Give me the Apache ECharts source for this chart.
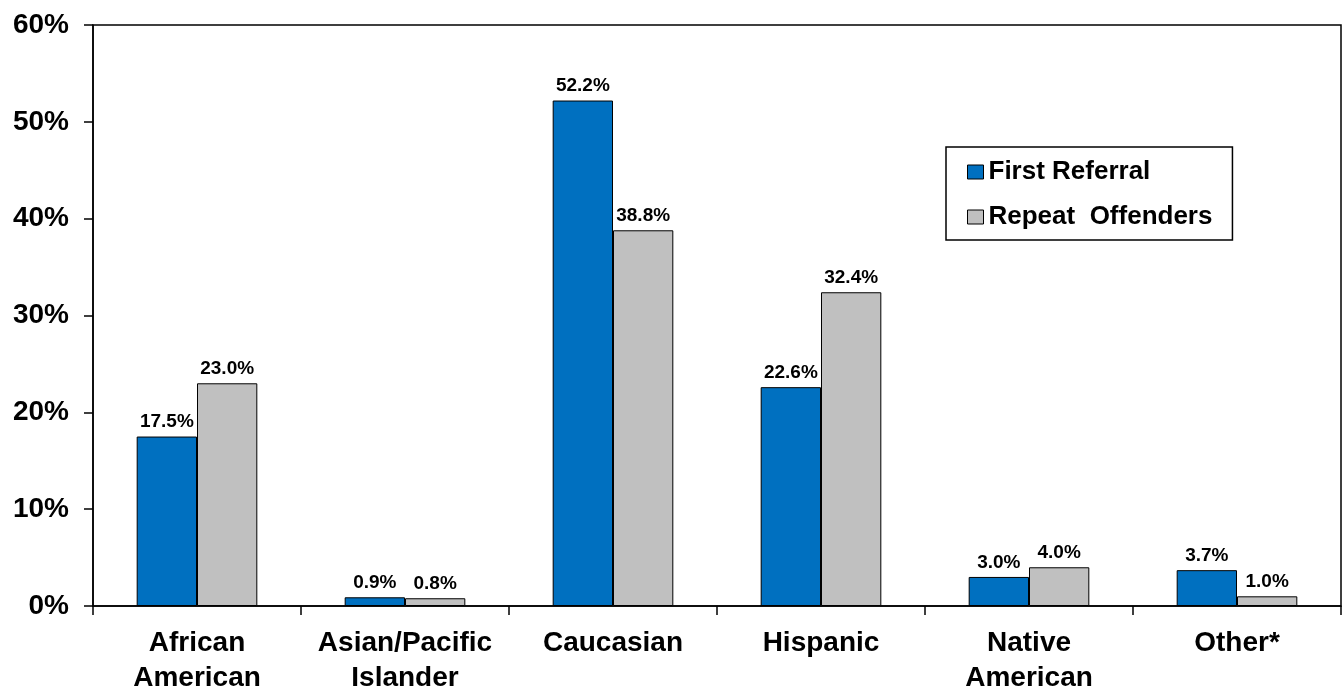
<!DOCTYPE html>
<html>
<head>
<meta charset="utf-8">
<script src="https://cdn.jsdelivr.net/npm/echarts@6/dist/echarts.min.js"></script>
<style>
  html, body { margin: 0; padding: 0; background: #ffffff; }
  #chart { width: 1343px; height: 692px; }
</style>
</head>
<body>
<div id="chart"></div>
<script>
// Categories and percentages per group
const categories = ['African\nAmerican', 'Asian/Pacific\nIslander', 'Caucasian', 'Hispanic', 'Native\nAmerican', 'Other*'];
const firstReferral = [17.5, 0.9, 52.2, 22.6, 3.0, 3.7];
const repeatOffenders = [23.0, 0.8, 38.8, 32.4, 4.0, 1.0];
const seriesNames = ['First Referral', 'Repeat  Offenders'];
const yTicks = { min: 0, max: 60, interval: 10 };

const FONT = '"Liberation Sans", Arial, sans-serif';

const chart = echarts.init(document.getElementById('chart'), null, { renderer: 'canvas' });

const labelOpt = {
  show: true,
  position: 'top',
  distance: 5,
  color: '#000',
  fontFamily: FONT,
  fontWeight: 'bold',
  fontSize: 19,
  formatter: p => p.value.toFixed(1) + '%'
};

chart.setOption({
  animation: false,
  backgroundColor: '#ffffff',
  grid: {
    left: 93, top: 25, right: 2, bottom: 86,
    outerBoundsMode: 'none',
    show: true, borderColor: '#000', borderWidth: 1.5, backgroundColor: 'transparent'
  },
  legend: {
    orient: 'vertical',
    left: 946,
    top: 147,
    padding: [11, 20, 9, 21],
    itemGap: 17,
    itemWidth: 16,
    itemHeight: 14,
    itemTextGap: 8,
    borderColor: '#000',
    borderWidth: 1.5,
    backgroundColor: '#fff',
    icon: 'rect',
    itemStyle: { borderColor: '#000', borderWidth: 1 },
    textStyle: { fontFamily: FONT, fontWeight: 'bold', fontSize: 26, color: '#000', lineHeight: 28 },
    data: seriesNames
  },
  xAxis: {
    type: 'category',
    data: categories,
    boundaryGap: true,
    axisLine: { lineStyle: { color: '#000', width: 1.5 } },
    axisTick: { show: true, length: 9, alignWithLabel: false, lineStyle: { color: '#000', width: 1.5 } },
    axisLabel: {
      interval: 0,
      margin: 20,
      color: '#000',
      fontFamily: FONT,
      fontWeight: 'bold',
      fontSize: 28,
      lineHeight: 35
    }
  },
  yAxis: {
    type: 'value',
    min: yTicks.min,
    max: yTicks.max,
    interval: yTicks.interval,
    splitLine: { show: false },
    axisLine: { show: true, lineStyle: { color: '#000', width: 1.5 } },
    axisTick: { show: true, length: 9, lineStyle: { color: '#000', width: 1.5 } },
    axisLabel: {
      margin: 24,
      color: '#000',
      fontFamily: FONT,
      fontWeight: 'bold',
      fontSize: 28,
      padding: [4, 0, 0, 0],
      formatter: '{value}%'
    }
  },
  series: [
    {
      name: seriesNames[0],
      type: 'bar',
      data: firstReferral,
      barGap: '0%',
      barCategoryGap: '42%',
      itemStyle: { color: '#0070C0', borderColor: '#000', borderWidth: 1 },
      label: labelOpt
    },
    {
      name: seriesNames[1],
      type: 'bar',
      data: repeatOffenders,
      barGap: '0%',
      barCategoryGap: '42%',
      itemStyle: { color: '#C0C0C0', borderColor: '#000', borderWidth: 1 },
      label: labelOpt
    }
  ]
});
</script>
</body>
</html>
